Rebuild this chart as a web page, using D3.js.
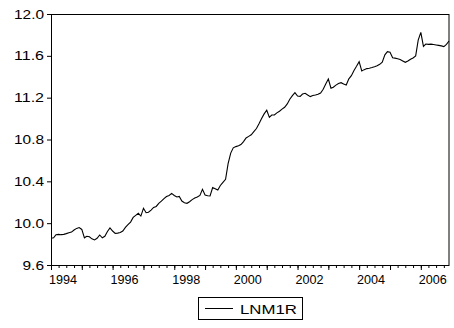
<!DOCTYPE html>
<html><head><meta charset="utf-8">
<script src="https://cdn.jsdelivr.net/npm/d3@7/dist/d3.min.js"></script>
<style>
html,body{margin:0;padding:0;background:#fff;}
svg{display:block;font-family:"Liberation Sans",Arial,Helvetica,sans-serif;}
</style></head>
<body>
<svg id="c" width="454" height="328"></svg>
<script>
// Series: LNM1R, monthly, 1994M01 .. 2006M12
const seriesName = "LNM1R";
const startPeriod = "1994-01";
const endPeriod = "2006-12";
const lnm1r = [
  9.855, 9.86, 9.89, 9.893, 9.89, 9.893, 9.90, 9.908, 9.915, 9.935, 9.95, 9.958,
  9.94, 9.86, 9.875, 9.87, 9.85, 9.84, 9.855, 9.887, 9.86, 9.875, 9.92, 9.955,
  9.925, 9.903, 9.905, 9.91, 9.925, 9.96, 9.985, 10.01, 10.055, 10.075, 10.094, 10.068,
  10.142, 10.10, 10.105, 10.125, 10.15, 10.16, 10.19, 10.21, 10.235, 10.255, 10.265, 10.285,
  10.265, 10.25, 10.255, 10.212, 10.195, 10.19, 10.205, 10.225, 10.24, 10.25, 10.266, 10.323,
  10.269, 10.262, 10.26, 10.34, 10.33, 10.317, 10.36, 10.39, 10.419, 10.57, 10.67, 10.72,
  10.732, 10.74, 10.752, 10.78, 10.815, 10.83, 10.845, 10.875, 10.905, 10.95, 11.00, 11.045,
  11.08, 11.012, 11.034, 11.034, 11.055, 11.07, 11.09, 11.108, 11.14, 11.185, 11.22, 11.248,
  11.215, 11.212, 11.235, 11.242, 11.225, 11.21, 11.22, 11.225, 11.232, 11.245, 11.28, 11.33,
  11.378, 11.29, 11.30, 11.32, 11.335, 11.343, 11.33, 11.321, 11.38, 11.41, 11.46, 11.50,
  11.544, 11.455, 11.468, 11.478, 11.482, 11.488, 11.496, 11.505, 11.519, 11.54, 11.61, 11.64,
  11.635, 11.582, 11.578, 11.572, 11.565, 11.551, 11.538, 11.55, 11.567, 11.58, 11.60, 11.75,
  11.825, 11.69, 11.713, 11.71, 11.712, 11.708, 11.704, 11.70, 11.695, 11.688, 11.71, 11.742
];
const yTicks = [9.6, 10.0, 10.4, 10.8, 11.2, 11.6, 12.0];
const xLabelYears = [1994, 1996, 1998, 2000, 2002, 2004, 2006];

const parseM = d3.timeParse("%Y-%m");
const t0 = parseM(startPeriod), t1 = parseM(endPeriod);
const months = d3.timeMonth.range(t0, d3.timeMonth.offset(t1, 1));
const data = months.map((d, i) => ({date: d, v: lnm1r[i]}));

const L = 51, R = 449, T = 14, B = 265;
const svg = d3.select("#c");
const x = d3.scaleTime().domain([t0, t1]).range([L, R]);
const y = d3.scaleLinear().domain([9.6, 12.0]).range([B, T]);
const fmt = d3.format(".1f");

// y axis ticks
const yAxis = d3.axisLeft(y).tickValues(yTicks).tickSize(4).tickFormat("");
const gy = svg.append("g").attr("transform", `translate(${L},0)`).call(yAxis);
gy.select(".domain").remove();
gy.selectAll("line").attr("stroke", "#000");
// y labels (wide face, right-aligned)
svg.append("g").selectAll("text").data(yTicks).join("text")
  .attr("x", 44).attr("y", d => y(d)).attr("dy", "0.36em")
  .attr("text-anchor", "end").attr("font-size", 12.5)
  .attr("textLength", d => fmt(d).length === 4 ? 30 : 21.5)
  .attr("lengthAdjust", "spacingAndGlyphs")
  .text(d => fmt(d));

// x axis minor (quarterly) & major (yearly)
const quarterTicks = d3.timeMonth.every(3).range(t0, d3.timeMonth.offset(t1, 1));
const gxMinor = svg.append("g").attr("transform", `translate(0,${B})`)
  .call(d3.axisBottom(x).tickValues(quarterTicks).tickSize(3).tickFormat(""));
gxMinor.select(".domain").remove();
gxMinor.selectAll("line").attr("stroke", "#000");
const yearTicks = d3.timeYear.range(t0, d3.timeMonth.offset(t1, 1));
const gxMajor = svg.append("g").attr("transform", `translate(0,${B})`)
  .call(d3.axisBottom(x).tickValues(yearTicks).tickSize(5).tickFormat(""));
gxMajor.select(".domain").remove();
gxMajor.selectAll("line").attr("stroke", "#000");

// x labels (start-aligned at the January tick)
svg.append("g").selectAll("text").data(xLabelYears).join("text")
  .attr("x", d => x(new Date(d, 0, 1)) - 2)
  .attr("y", 284)
  .attr("font-size", 12.5)
  .attr("textLength", 28)
  .attr("lengthAdjust", "spacingAndGlyphs")
  .attr("text-anchor", "start")
  .text(d => d);

// series line
svg.append("path").datum(data)
  .attr("fill", "none").attr("stroke", "#000").attr("stroke-width", 1.1)
  .attr("d", d3.line().x(d => x(d.date)).y(d => y(d.v)));

// frame
svg.append("rect").attr("x", L + 0.5).attr("y", T + 0.5)
  .attr("width", R - L - 0.5).attr("height", B - T)
  .attr("fill", "none").attr("stroke", "#000").attr("stroke-width", 1);

// legend
const lg = svg.append("g");
lg.append("rect").attr("x", 198.5).attr("y", 297.5).attr("width", 104).attr("height", 22)
  .attr("fill", "none").attr("stroke", "#000");
lg.append("line").attr("x1", 205).attr("x2", 233).attr("y1", 308.5).attr("y2", 308.5).attr("stroke", "#000");
lg.append("text").attr("x", 240).attr("y", 313.5).attr("font-size", 13)
  .attr("textLength", 57).attr("lengthAdjust", "spacingAndGlyphs").text(seriesName);
</script>
</body></html>
